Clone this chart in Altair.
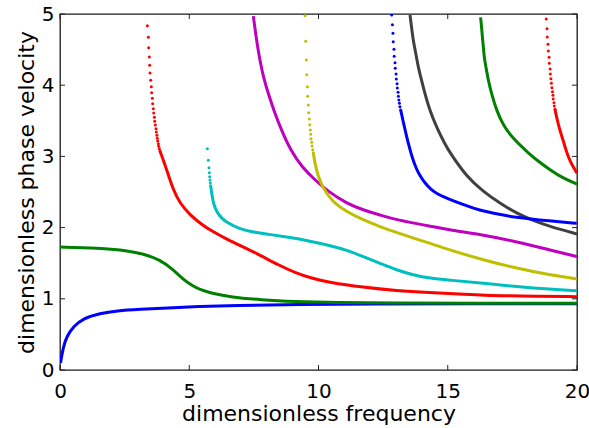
import altair as alt
import pandas as pd

x_ticks = [0, 5, 10, 15, 20]
y_ticks = [0, 1, 2, 3, 4, 5]

# ---- curve 1: blue (A0) ----
c1_f = [0.02, 0.13, 0.26, 0.52, 0.90, 1.55, 2.19, 3.10, 4.13, 5.42, 6.70, 9.28, 12.0, 16.0, 20.0]
c1_c = [0.10, 0.33, 0.47, 0.61, 0.726, 0.796, 0.833, 0.853, 0.872, 0.893, 0.907, 0.920, 0.927, 0.930, 0.932]

# ---- curve 2: green (S0) ----
c2_f = [0.0, 1.29, 2.0, 2.58, 3.22, 3.87, 4.38, 4.77, 5.16, 5.42, 5.87, 6.51, 7.80, 9.09, 10.64, 13.0, 16.0, 20.0]
c2_c = [1.728, 1.712, 1.695, 1.676, 1.632, 1.548, 1.41, 1.27, 1.175, 1.13, 1.077, 1.03, 0.983, 0.960, 0.947, 0.940, 0.937, 0.936]

# ---- curve 3: red (A1) ----
c3_dot_f = [3.378, 3.417, 3.430, 3.456, 3.469, 3.482, 3.508, 3.533, 3.546, 3.572, 3.585, 3.611, 3.624,
            3.650, 3.662, 3.688, 3.714, 3.727, 3.752, 3.765, 3.778, 3.804, 3.817, 3.843, 3.868]
c3_dot_c = [4.836, 4.672, 4.527, 4.396, 4.279, 4.171, 4.069, 3.979, 3.895, 3.816, 3.740, 3.670, 3.610,
            3.549, 3.493, 3.441, 3.389, 3.343, 3.296, 3.254, 3.216, 3.178, 3.142, 3.108, 3.076]
c3_f = [3.868, 4.13, 4.38, 4.64, 5.03, 5.42, 5.87, 6.51, 7.16, 7.80, 8.45, 9.09, 9.74, 10.38, 11.73,
        13.02, 14.31, 15.47, 16.38, 17.67, 20.0]
c3_c = [3.076, 2.81, 2.53, 2.34, 2.18, 2.06, 1.95, 1.826, 1.718, 1.601, 1.475, 1.367, 1.288, 1.232, 1.161,
        1.114, 1.086, 1.067, 1.049, 1.039, 1.030]

# ---- curve 4: cyan (S1) ----
c4_dot_f = [5.700, 5.738, 5.764, 5.777, 5.790, 5.803, 5.816, 5.829]
c4_dot_c = [3.108, 2.945, 2.842, 2.771, 2.715, 2.669, 2.626, 2.588]
c4_f = [5.829, 5.87, 5.93, 6.06, 6.25, 6.51, 6.90, 7.41, 8.06, 8.83, 9.61, 10.44, 11.09, 11.73, 12.38,
        13.02, 13.67, 14.31, 15.09, 16.38, 17.67, 18.96, 20.0]
c4_c = [2.588, 2.48, 2.34, 2.22, 2.13, 2.06, 1.99, 1.94, 1.906, 1.864, 1.816, 1.748, 1.685, 1.592, 1.498,
        1.404, 1.334, 1.287, 1.262, 1.218, 1.170, 1.133, 1.114]

# ---- curve 5: magenta ----
c5_f = [7.48, 7.52, 7.57, 7.65, 7.74, 7.87, 8.06, 8.32, 8.58, 8.93, 9.35, 9.86, 10.40, 11.09, 11.73,
        12.38, 13.02, 14.31, 15.09, 16.38, 17.67, 18.96, 20.0]
c5_c = [4.97, 4.86, 4.72, 4.53, 4.34, 4.11, 3.876, 3.596, 3.36, 3.08, 2.855, 2.669, 2.50, 2.341, 2.247,
        2.177, 2.107, 2.022, 1.966, 1.896, 1.802, 1.685, 1.592]

# ---- curve 6: yellow ----
c6_dot_f = [9.478, 9.505, 9.528, 9.544, 9.567, 9.582, 9.605, 9.621, 9.644, 9.660, 9.683, 9.698, 9.710,
            9.737, 9.749, 9.776, 9.799]
c6_dot_c = [4.976, 4.617, 4.354, 4.148, 3.979, 3.844, 3.722, 3.614, 3.525, 3.445, 3.371, 3.310, 3.249,
            3.198, 3.146, 3.094, 3.052]
c6_f = [9.799, 9.86, 9.99, 10.19, 10.44, 10.64, 11.09, 11.73, 12.38, 13.02, 14.31, 15.09, 16.38, 17.67,
        18.96, 20.0]
c6_c = [3.052, 2.90, 2.715, 2.55, 2.42, 2.34, 2.223, 2.107, 2.013, 1.929, 1.779, 1.685, 1.545, 1.428,
        1.334, 1.278]

# ---- curve 7: dark gray ----
c7_f = [13.54, 13.60, 13.67, 13.77, 13.86, 13.99, 14.12, 14.31, 14.57, 14.89, 15.09, 15.73, 16.38,
        17.02, 17.67, 18.31, 18.96, 20.0]
c7_c = [4.986, 4.813, 4.613, 4.438, 4.251, 4.063, 3.876, 3.642, 3.409, 3.174, 3.05, 2.715, 2.504,
        2.341, 2.20, 2.097, 2.013, 1.91]

# ---- curve 8: blue ----
c8_dot_f = [12.83, 12.86, 12.88, 12.89, 12.92, 12.93, 12.96, 12.97, 13.00, 13.01, 13.04, 13.05, 13.08,
            13.09, 13.11, 13.13, 13.15, 13.18]
c8_dot_c = [4.986, 4.85, 4.729, 4.611, 4.504, 4.406, 4.316, 4.237, 4.157, 4.087, 4.021, 3.96, 3.90,
            3.844, 3.792, 3.746, 3.698, 3.652]
c8_f = [13.180, 13.288, 13.404, 13.520, 13.636, 13.772, 13.926, 14.120, 14.352, 14.623, 15.087, 15.474,
        16.375, 17.667, 18.956, 19.988]
c8_c = [3.652, 3.469, 3.287, 3.118, 2.971, 2.837, 2.725, 2.624, 2.535, 2.465, 2.395, 2.341,
        2.223, 2.139, 2.093, 2.060]

# ---- curve 9: green ----
c9_f = [16.27, 16.31, 16.34, 16.38, 16.41, 16.48, 16.57, 16.70, 16.89, 17.149, 17.536, 18.182, 18.441,
        18.96, 19.47, 20.0]
c9_c = [4.953, 4.813, 4.672, 4.532, 4.391, 4.251, 4.063, 3.876, 3.642, 3.434, 3.244, 3.027, 2.949,
        2.809, 2.692, 2.612]

# ---- curve 10: red ----
c10_dot_f = [18.81, 18.84, 18.85, 18.88, 18.89, 18.92, 18.93, 18.96, 18.97, 18.99, 19.01, 19.03, 19.05,
             19.07, 19.08, 19.11, 19.12, 19.15]
c10_dot_c = [4.93, 4.794, 4.677, 4.574, 4.48, 4.391, 4.307, 4.228, 4.157, 4.092, 4.026, 3.965, 3.909,
             3.858, 3.806, 3.754, 3.708, 3.661]
c10_f = [19.15, 19.21, 19.34, 19.47, 19.57, 19.73, 20.0]
c10_c = [3.661, 3.549, 3.361, 3.221, 3.09, 2.926, 2.763]

BLUE, GREEN, RED = "#0000ff", "#008000", "#ff0000"
CYAN, MAGENTA, YELLOW, GRAY = "#00bfbf", "#bf00bf", "#bfbf00", "#404040"

curves = [
    (c1_f, c1_c, None, None, BLUE),
    (c2_f, c2_c, None, None, GREEN),
    (c3_f, c3_c, c3_dot_f, c3_dot_c, RED),
    (c4_f, c4_c, c4_dot_f, c4_dot_c, CYAN),
    (c5_f, c5_c, None, None, MAGENTA),
    (c6_f, c6_c, c6_dot_f, c6_dot_c, YELLOW),
    (c7_f, c7_c, None, None, GRAY),
    (c8_f, c8_c, c8_dot_f, c8_dot_c, BLUE),
    (c9_f, c9_c, None, None, GREEN),
    (c10_f, c10_c, c10_dot_f, c10_dot_c, RED),
]

FONT = "DejaVu Sans"
xscale = alt.Scale(domain=[0, 20], nice=False, zero=False)
yscale = alt.Scale(domain=[0, 5], nice=False, zero=False)

x_axis = alt.Axis(values=x_ticks, title="dimensionless frequency", grid=False, ticks=False, tickSize=0,
                  domain=False, labelFont=FONT, labelFontSize=20, labelColor="black",
                  labelBaseline="alphabetic", labelPadding=27, labelFlush=False,
                  titleFont=FONT, titleFontSize=22, titleFontWeight="normal", titleColor="black",
                  titleBaseline="alphabetic", titleY=50)
y_axis = alt.Axis(values=y_ticks, title="dimensionless phase velocity", grid=False, ticks=False,
                  tickSize=0, domain=False, labelFont=FONT, labelFontSize=20, labelColor="black",
                  labelPadding=6, labelFlush=False,
                  titleFont=FONT, titleFontSize=22, titleFontWeight="normal", titleColor="black",
                  titleBaseline="alphabetic", titleAngle=270, titleX=-27, titleY=178)

X = lambda fld: alt.X(fld, scale=xscale, axis=x_axis)
Y = lambda fld: alt.Y(fld, scale=yscale, axis=y_axis)

layers = []
for (lf, lc, df_, dc_, col) in curves:
    d = pd.DataFrame({"f": lf, "c": lc, "i": list(range(len(lf)))})
    layers.append(
        alt.Chart(d).mark_line(color=col, strokeWidth=3, interpolate="basis", clip=True).encode(
            x=X("f:Q"), y=Y("c:Q"), order="i:Q",
        )
    )
    if df_ is not None:
        dd = pd.DataFrame({"f": df_, "c": dc_})
        layers.append(
            alt.Chart(dd).mark_circle(color=col, size=9, opacity=1, clip=True).encode(
                x=X("f:Q"), y=Y("c:Q"),
            )
        )

# inward tick marks on all four sides
xt = pd.DataFrame({"f": x_ticks})
yt = pd.DataFrame({"c": y_ticks})
TICK = "#222222"
layers.append(alt.Chart(xt).mark_rule(color=TICK, strokeWidth=1).encode(
    x=X("f:Q"), y=alt.value(356), y2=alt.value(351)))
layers.append(alt.Chart(xt).mark_rule(color=TICK, strokeWidth=1).encode(
    x=X("f:Q"), y=alt.value(0), y2=alt.value(5)))
layers.append(alt.Chart(yt).mark_rule(color=TICK, strokeWidth=1).encode(
    y=Y("c:Q"), x=alt.value(0), x2=alt.value(5)))
layers.append(alt.Chart(yt).mark_rule(color=TICK, strokeWidth=1).encode(
    y=Y("c:Q"), x=alt.value(517), x2=alt.value(512)))

chart = alt.layer(*layers).properties(
    width=517, height=356,
    padding={"left": 60, "top": 14, "right": 12, "bottom": 58},
    autosize=alt.AutoSizeParams(type="none"),
    background="white",
).configure_view(stroke="#1a1a1a", strokeWidth=1.3)

chart.save("out.html", embed_options={"renderer": "svg", "actions": False})
